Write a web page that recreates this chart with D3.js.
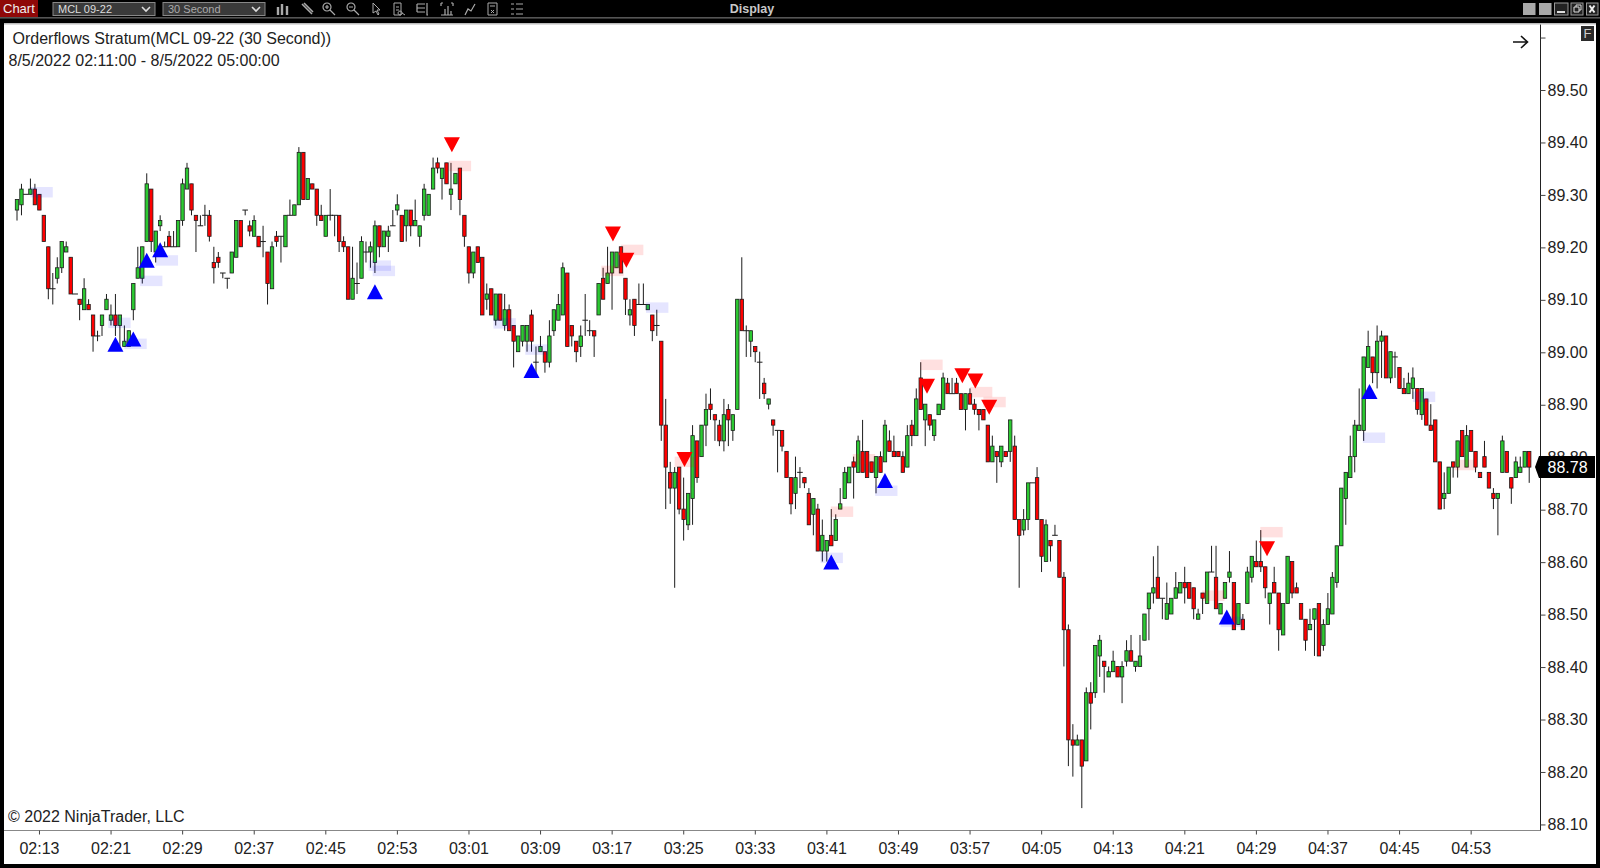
<!DOCTYPE html>
<html><head><meta charset="utf-8"><title>Orderflows Stratum</title>
<script src="https://cdn.jsdelivr.net/npm/d3@7/dist/d3.min.js"></script>
<style>html,body{margin:0;padding:0;background:#000;overflow:hidden}svg{display:block}text{font-family:"Liberation Sans",Arial,sans-serif}</style>
</head><body><svg id="c" width="1600" height="868"></svg>
<script>
const firstBarMinute = 130.5; // 02:10:30
const barMinutes = 0.5;
const opens = [
89.27,89.28,89.30,89.30,89.31,89.30,89.26,89.20,89.12,89.14,
89.16,89.19,89.18,89.11,89.10,89.08,89.09,89.07,89.03,89.05,
89.08,89.06,89.07,89.05,89.01,89.01,89.08,89.14,89.14,89.21,
89.31,89.19,89.24,89.20,89.22,89.20,89.20,89.25,89.31,89.32,
89.26,89.24,89.26,89.26,89.17,89.18,89.15,89.14,89.15,89.18,
89.25,89.27,89.24,89.22,89.22,89.21,89.19,89.12,89.22,89.22,
89.20,89.26,89.26,89.28,89.38,89.29,89.32,89.31,89.26,89.22,
89.26,89.26,89.26,89.21,89.20,89.10,89.13,89.14,89.19,89.19,
89.17,89.24,89.20,89.22,89.24,89.27,89.26,89.24,89.27,89.24,
89.22,89.26,89.26,89.31,89.36,89.33,89.36,89.30,89.32,89.35,
89.26,89.20,89.15,89.20,89.18,89.10,89.12,89.06,89.11,89.05,
89.08,89.05,89.00,89.02,89.02,89.07,88.98,89.00,89.00,88.98,
89.04,89.06,89.07,89.15,89.05,89.02,89.01,89.06,89.04,89.04,
89.07,89.14,89.13,89.15,89.16,89.20,89.14,89.07,89.10,89.09,
89.09,89.08,89.07,89.05,89.02,88.86,88.77,88.74,88.78,88.70,
88.67,88.72,88.83,88.80,88.86,88.90,88.88,88.86,88.83,88.89,
88.85,88.89,89.10,89.04,89.02,89.01,88.98,88.94,88.90,88.87,
88.85,88.85,88.81,88.76,88.73,88.77,88.76,88.73,88.69,88.70,
88.62,88.62,88.65,88.64,88.70,88.72,88.75,88.79,88.77,88.81,
88.81,88.79,88.76,88.80,88.79,88.83,88.81,88.81,88.80,88.78,
88.86,88.84,88.95,88.87,88.88,88.84,88.88,88.89,88.94,88.92,
88.94,88.92,88.89,88.92,88.90,88.89,88.89,88.86,88.79,88.81,
88.79,88.81,88.81,88.82,88.68,88.66,88.68,88.75,88.76,88.68,
88.60,88.64,88.65,88.64,88.57,88.47,88.26,88.25,88.26,88.22,
88.35,88.35,88.42,88.41,88.38,88.39,88.40,88.38,88.41,88.43,
88.40,88.40,88.45,88.51,88.54,88.57,88.53,88.49,88.50,88.53,
88.54,88.56,88.56,88.55,88.49,88.54,88.52,88.58,88.57,88.50,
88.53,88.57,88.56,88.48,88.49,88.52,88.57,88.60,88.60,88.59,
88.52,88.56,88.54,88.46,88.52,88.60,88.55,88.52,88.49,88.47,
88.49,88.52,88.44,88.48,88.50,88.56,88.63,88.72,88.76,88.80,
88.85,88.85,88.97,88.99,88.96,89.02,89.03,88.95,88.99,88.97,
88.93,88.92,88.93,88.93,88.88,88.91,88.86,88.87,88.79,88.72,
88.73,88.79,88.78,88.85,88.78,88.85,88.81,88.77,88.80,88.77,
88.73,88.72,88.77,88.81,88.76,88.76,88.77,88.78,88.81];
const closes = [
89.29,89.31,89.30,89.31,89.28,89.27,89.21,89.12,89.12,89.16,
89.21,89.20,89.11,89.11,89.09,89.12,89.08,89.03,89.03,89.07,
89.10,89.07,89.05,89.07,89.02,89.04,89.13,89.16,89.20,89.32,
89.21,89.23,89.25,89.20,89.20,89.20,89.25,89.32,89.35,89.27,
89.25,89.24,89.26,89.22,89.16,89.17,89.15,89.14,89.19,89.25,
89.20,89.27,89.23,89.25,89.20,89.21,89.13,89.20,89.21,89.22,
89.26,89.26,89.28,89.38,89.29,89.33,89.31,89.26,89.25,89.26,
89.26,89.26,89.21,89.20,89.10,89.14,89.13,89.21,89.19,89.20,
89.24,89.20,89.23,89.23,89.24,89.28,89.21,89.27,89.24,89.25,
89.24,89.31,89.30,89.35,89.35,89.35,89.32,89.31,89.34,89.29,
89.22,89.15,89.19,89.17,89.07,89.11,89.07,89.11,89.06,89.08,
89.04,89.02,89.03,89.05,89.05,89.02,88.98,89.01,88.98,89.03,
89.08,89.09,89.16,89.01,89.03,89.00,89.03,89.06,89.04,89.03,
89.13,89.10,89.15,89.19,89.19,89.15,89.10,89.08,89.05,89.09,
89.09,89.09,89.04,89.05,88.86,88.78,88.74,88.77,88.70,88.68,
88.73,88.84,88.76,88.86,88.89,88.89,88.87,88.83,88.88,88.87,
88.88,89.10,89.04,89.04,89.04,89.00,88.98,88.92,88.91,88.86,
88.85,88.82,88.76,88.71,88.76,88.77,88.75,88.67,88.72,88.62,
88.65,88.64,88.63,88.68,88.71,88.77,88.78,88.78,88.83,88.77,
88.76,88.77,88.80,88.77,88.86,88.81,88.80,88.80,88.77,88.84,
88.84,88.91,88.89,88.90,88.86,88.87,88.90,88.95,88.92,88.92,
88.92,88.89,88.92,88.90,88.89,88.88,88.87,88.79,88.82,88.80,
88.82,88.80,88.87,88.68,88.65,88.68,88.75,88.75,88.68,88.61,
88.67,88.63,88.65,88.57,88.47,88.26,88.25,88.26,88.21,88.35,
88.33,88.44,88.45,88.40,88.39,88.41,88.38,88.40,88.43,88.41,
88.41,88.42,88.50,88.54,88.55,88.53,88.53,88.52,88.53,88.55,
88.56,88.55,88.53,88.51,88.50,88.53,88.58,88.58,88.51,88.52,
88.56,88.58,88.47,88.52,88.47,88.58,88.61,88.59,88.59,88.55,
88.54,88.54,88.47,88.52,88.61,88.54,88.54,88.49,88.45,88.48,
88.51,88.42,88.48,88.51,88.57,88.63,88.74,88.77,88.80,88.86,
88.86,88.99,89.01,88.96,89.02,89.03,88.95,89.00,88.99,88.93,
88.92,88.94,88.95,88.89,88.93,88.86,88.85,88.79,88.70,88.73,
88.78,88.78,88.83,88.80,88.84,88.81,88.78,88.76,88.78,88.74,
88.72,88.73,88.83,88.77,88.74,88.79,88.78,88.81,88.78];
const highs = [
89.29,89.32,89.30,89.33,89.32,89.30,89.26,89.20,89.15,89.18,
89.21,89.21,89.18,89.11,89.10,89.14,89.10,89.07,89.04,89.07,
89.11,89.09,89.11,89.07,89.05,89.04,89.13,89.20,89.20,89.34,
89.31,89.23,89.26,89.21,89.23,89.23,89.25,89.33,89.36,89.32,
89.26,89.26,89.28,89.27,89.20,89.19,89.15,89.14,89.19,89.25,
89.25,89.27,89.25,89.26,89.22,89.24,89.19,89.21,89.23,89.22,
89.26,89.29,89.28,89.39,89.38,89.33,89.32,89.31,89.28,89.26,
89.31,89.26,89.26,89.22,89.20,89.20,89.17,89.22,89.21,89.21,
89.25,89.24,89.23,89.24,89.27,89.30,89.26,89.27,89.27,89.29,
89.24,89.32,89.30,89.37,89.37,89.35,89.36,89.36,89.34,89.35,
89.26,89.20,89.19,89.20,89.18,89.13,89.12,89.11,89.11,89.11,
89.09,89.05,89.03,89.05,89.05,89.08,89.01,89.03,89.00,89.06,
89.08,89.11,89.17,89.15,89.05,89.02,89.05,89.11,89.06,89.04,
89.13,89.16,89.20,89.19,89.19,89.20,89.14,89.10,89.10,89.13,
89.13,89.09,89.07,89.08,89.02,88.91,88.79,88.78,88.78,88.76,
88.73,88.86,88.83,88.86,88.92,88.93,88.88,88.87,88.91,88.90,
88.88,89.10,89.18,89.05,89.04,89.01,89.00,88.95,88.91,88.87,
88.85,88.85,88.81,88.76,88.80,88.78,88.76,88.74,88.72,88.71,
88.68,88.64,88.70,88.69,88.74,88.78,88.78,88.80,88.84,88.87,
88.81,88.79,88.80,88.81,88.87,88.85,88.84,88.81,88.81,88.86,
88.87,88.93,88.98,88.90,88.88,88.87,88.90,88.96,88.95,88.95,
88.95,88.92,88.92,88.93,88.91,88.89,88.89,88.86,88.84,88.81,
88.82,88.81,88.87,88.84,88.68,88.70,88.75,88.75,88.78,88.68,
88.68,88.64,88.67,88.64,88.58,88.48,88.29,88.27,88.26,88.36,
88.37,88.44,88.46,88.41,88.40,88.43,88.40,88.41,88.45,88.46,
88.41,88.46,88.50,88.54,88.61,88.63,88.53,88.56,88.53,88.58,
88.56,88.59,88.56,88.55,88.51,88.54,88.58,88.63,88.63,88.52,
88.56,88.62,88.56,88.52,88.50,88.59,88.61,88.64,88.66,88.59,
88.54,88.59,88.54,88.52,88.61,88.60,88.56,88.52,88.49,88.51,
88.51,88.52,88.49,88.54,88.58,88.63,88.74,88.77,88.84,88.87,
88.93,88.99,89.04,88.99,89.05,89.04,89.03,89.00,89.00,88.97,
88.95,88.96,88.97,88.93,88.93,88.91,88.90,88.87,88.79,88.77,
88.78,88.79,88.83,88.85,88.86,88.85,88.81,88.77,88.83,88.77,
88.74,88.73,88.84,88.81,88.76,88.80,88.80,88.81,88.81];
const lows = [
89.25,89.26,89.30,89.30,89.28,89.27,89.21,89.10,89.09,89.13,
89.15,89.19,89.11,89.11,89.06,89.08,89.08,89.00,89.02,89.03,
89.08,89.05,89.03,89.01,89.01,89.01,89.06,89.14,89.13,89.21,
89.19,89.17,89.23,89.20,89.20,89.20,89.20,89.24,89.31,89.26,
89.19,89.24,89.24,89.21,89.13,89.16,89.14,89.12,89.15,89.18,
89.20,89.26,89.22,89.22,89.20,89.18,89.09,89.12,89.20,89.17,
89.20,89.26,89.26,89.28,89.29,89.29,89.31,89.24,89.25,89.22,
89.25,89.22,89.19,89.19,89.10,89.10,89.11,89.14,89.17,89.16,
89.15,89.18,89.20,89.19,89.24,89.26,89.21,89.21,89.22,89.24,
89.20,89.25,89.26,89.31,89.34,89.29,89.32,89.27,89.32,89.26,
89.20,89.13,89.14,89.17,89.07,89.08,89.07,89.05,89.06,89.04,
89.04,88.97,89.00,89.01,89.00,89.00,88.95,89.00,88.96,88.97,
89.03,89.06,89.07,89.01,89.01,88.98,88.99,89.03,89.03,88.99,
89.07,89.10,89.13,89.08,89.16,89.15,89.07,89.05,89.03,89.09,
89.09,89.08,89.02,89.03,88.83,88.70,88.71,88.55,88.69,88.64,
88.66,88.67,88.75,88.80,88.82,88.87,88.83,88.82,88.81,88.82,
88.83,88.89,89.04,88.99,88.99,88.98,88.91,88.91,88.89,88.84,
88.77,88.81,88.76,88.69,88.70,88.74,88.74,88.67,88.65,88.62,
88.60,88.60,88.63,88.64,88.70,88.72,88.75,88.72,88.77,88.77,
88.76,88.77,88.73,88.77,88.79,88.81,88.80,88.80,88.77,88.78,
88.82,88.84,88.89,88.82,88.85,88.83,88.88,88.89,88.92,88.92,
88.92,88.89,88.85,88.90,88.88,88.85,88.87,88.79,88.79,88.75,
88.78,88.80,88.79,88.68,88.55,88.65,88.66,88.75,88.68,88.58,
88.60,88.60,88.65,88.57,88.40,88.21,88.19,88.25,88.13,88.22,
88.28,88.34,88.38,88.35,88.38,88.39,88.38,88.33,88.40,88.41,
88.39,88.40,88.45,88.45,88.52,88.53,88.49,88.49,88.50,88.53,
88.54,88.52,88.53,88.49,88.49,88.50,88.52,88.58,88.51,88.50,
88.53,88.56,88.47,88.48,88.47,88.52,88.56,88.59,88.58,88.53,
88.48,88.54,88.43,88.46,88.52,88.53,88.54,88.49,88.43,88.47,
88.42,88.42,88.43,88.48,88.50,88.55,88.63,88.67,88.76,88.77,
88.85,88.83,88.97,88.94,88.93,88.95,88.95,88.94,88.95,88.93,
88.92,88.92,88.91,88.88,88.87,88.86,88.85,88.79,88.70,88.70,
88.73,88.76,88.76,88.80,88.78,88.81,88.77,88.76,88.78,88.74,
88.70,88.65,88.77,88.77,88.71,88.76,88.77,88.78,88.75];

// Signals: bar position and price of the triangle's flat edge / tip
const upBars = [22,26,29,32,80,115,182,194,270.4,302.3];
const upPrices = [89.00,89.01,89.16,89.18,89.10,88.95,88.585,88.74,88.48,88.91];
const downBars = [97.2,133.2,136.2,149.2,203.4,211.3,214.2,217.3,279.4];
const downPrices = [89.38,89.21,89.16,88.78,88.92,88.94,88.93,88.88,88.61];
// Imbalance zones: left bar and centre price
const blueZoneBars = [3,20.4,24,27.5,31,78.6,79.5,106.5,113.6,140.6,179.6,191.8,269,300.8,312];
const blueZonePrices = [89.304,89.055,89.015,89.135,89.174,89.164,89.154,89.054,89.004,89.084,88.607,88.735,88.485,88.836,88.914];
const pinkZoneBars = [96.5,130.6,135,147,181.9,186.8,201.9,213,216,264.9,277.9,321.3];
const pinkZonePrices = [89.354,89.154,89.194,88.79,88.695,88.795,88.975,88.923,88.904,88.535,88.656,88.784];

const timeLabels = ["02:13","02:21","02:29","02:37","02:45","02:53","03:01","03:09","03:17","03:25","03:33","03:41","03:49","03:57","04:05","04:13","04:21","04:29","04:37","04:45","04:53"];
const priceTicks = [89.6,89.5,89.4,89.3,89.2,89.1,89.0,88.9,88.8,88.7,88.6,88.5,88.4,88.3,88.2,88.1];
const lastPrice = 88.78;
const titleText = "Orderflows Stratum(MCL 09-22 (30 Second))";
const rangeText = "8/5/2022 02:11:00 - 8/5/2022 05:00:00";
const copyText = "\u00a9 2022 NinjaTrader, LLC";

const svg = d3.select("#c");
const GREEN = "#2cc932", RED = "#ff0000", INK = "#1c1c1c";
const x = d3.scaleLinear().domain([0,338]).range([17,17+4.474*338]);
const y = d3.scaleLinear().domain([89,88.1]).range([351.7,351.7+0.9*524.6]);
const toMin = t => { const p = t.split(":"); return +p[0]*60 + +p[1]; };
const xTime = d3.scaleLinear().domain([firstBarMinute, firstBarMinute+338*barMinutes]).range([16.6,16.6+4.474*338]);

// frame
svg.append("rect").attr("width",1600).attr("height",868).attr("fill","#000");
svg.append("rect").attr("x",4).attr("y",23).attr("width",1592).attr("height",841).attr("fill","#fff");
svg.append("rect").attr("x",4).attr("y",23).attr("width",1592).attr("height",1.5).attr("fill","#bbb");
svg.append("rect").attr("x",0).attr("y",17).attr("width",1600).attr("height",1.6).attr("fill","#555");

// toolbar
svg.append("rect").attr("x",0).attr("y",0).attr("width",38).attr("height",17).attr("fill","#8f0808");
svg.append("text").attr("x",3).attr("y",13).attr("font-size",13).attr("fill","#eee").text("Chart");
[[53,155,"MCL 09-22","#ddd"],[163,265,"30 Second","#aaa"]].forEach(s=>{
  svg.append("rect").attr("x",s[0]).attr("y",2.5).attr("width",s[1]-s[0]).attr("height",13).attr("fill","#3a3a3a").attr("stroke","#888");
  svg.append("text").attr("x",s[0]+5).attr("y",13).attr("font-size",11).attr("fill",s[3]).text(s[2]);
  svg.append("path").attr("d",`M${s[1]-13} 7l4 4l4 -4`).attr("fill","none").attr("stroke","#ddd").attr("stroke-width",1.6);
});
svg.append("text").attr("x",752).attr("y",13).attr("text-anchor","middle").attr("font-size",12.5).attr("font-weight","bold").attr("fill","#c8c8c8").text("Display");
const icons = [
 [283,"M-5 -2v8M-1 -5v11M4 -3v9",2.4],
 [307,"M-5 -5l10 10M-3 -6l9 9",1.6],
 [329,"M-2 -2m-4 0a4 4 0 1 0 8 0a4 4 0 1 0 -8 0M1 1l5 5M-4 -2h4M-2 -4v4",1.2],
 [353,"M-2 -2m-4 0a4 4 0 1 0 8 0a4 4 0 1 0 -8 0M1 1l5 5M-4 -2h4",1.2],
 [376,"M-3 -6v10l3 -2l2 4l1 -1l-2 -4h3z",1],
 [399,"M-5 -6h7v12h-7zM-3 -2h3M-3 1h3M1 2a2 2 0 1 0 .1 0M3 4l3 2",1],
 [423,"M-6 -5h8M-6 -1h8M-6 3h8M4 -6v12h1M-6 -5v8",1.2],
 [447,"M-6 -6h2M4 -6h2M-6 6h12M-6 -6v3M6 -6v3M-2 6v-6M1 6v-9M4 6v-4",1.2],
 [470,"M-5 6l3 -6l3 2l4 -7",1.2],
 [493,"M-5 -6h9v12h-9zM-3 -3h5M-2 1l3 3M1 1l-3 3",1],
 [517,"M-6 -5h3M-6 0h3M-6 5h3M-1 -5h7M-1 0h7M-1 5h7",1.2]];
icons.forEach(d=>svg.append("path").attr("transform",`translate(${d[0]},9)`).attr("d",d[1]).attr("fill","none").attr("stroke","#aaa").attr("stroke-width",d[2]));
[[1523,1535.5],[1539,1551.5]].forEach(b=>svg.append("rect").attr("x",b[0]).attr("y",3).attr("width",b[1]-b[0]).attr("height",12).attr("fill","#a8a8a8"));
[[1554.5,1568],[1571,1583],[1586.5,1598]].forEach(b=>svg.append("rect").attr("x",b[0]).attr("y",3).attr("width",b[1]-b[0]).attr("height",12).attr("fill","#222").attr("stroke","#999"));
svg.append("path").attr("d","M1557 12h8").attr("stroke","#ddd").attr("stroke-width",2);
svg.append("path").attr("d","M1574 7h5v5h-5zM1576 7v-2h5v5h-2").attr("fill","none").attr("stroke","#ddd");
svg.append("path").attr("d","M1589.5 5.5l5 7M1594.5 5.5l-5 7").attr("stroke","#eee").attr("stroke-width",2);

// axes
const yAxis = d3.axisRight(y).tickValues(priceTicks).tickSize(5).tickPadding(2)
  .tickFormat(v => Math.abs(v-89.6)<1e-6 ? "" : v.toFixed(2));
const gy = svg.append("g").attr("transform","translate(1540.5,0.6)").call(yAxis);
gy.select(".domain").attr("d","M0 24V830").attr("stroke","#222");
gy.selectAll(".tick line").attr("stroke","#444");
gy.selectAll("text").attr("font-size",16).attr("font-family","Liberation Sans").attr("fill","#222");
const xAxis = d3.axisBottom(xTime).tickValues(timeLabels.map(toMin)).tickSize(4).tickPadding(8.5)
  .tickFormat((v,i)=>timeLabels[i]);
const gx = svg.append("g").attr("transform","translate(0,830.5)").call(xAxis);
gx.select(".domain").attr("d","M4 0H1540").attr("stroke","#888");
gx.selectAll(".tick line").attr("stroke","#444");
gx.selectAll("text").attr("font-size",16).attr("font-family","Liberation Sans").attr("fill","#222");

// candles
const bars = d3.range(opens.length);
const g = svg.append("g");
g.selectAll("line.w").data(bars).join("line").attr("class","w")
  .attr("x1",i=>x(i)).attr("x2",i=>x(i)).attr("y1",i=>y(highs[i])).attr("y2",i=>y(lows[i]))
  .attr("stroke",INK).attr("stroke-width",1);
g.selectAll("rect.b").data(bars.filter(i=>opens[i]!==closes[i])).join("rect").attr("class","b")
  .attr("x",i=>x(i)-1.7).attr("width",3.4)
  .attr("y",i=>y(Math.max(opens[i],closes[i])))
  .attr("height",i=>Math.abs(y(opens[i])-y(closes[i])))
  .attr("fill",i=>closes[i]>opens[i]?GREEN:RED)
  .attr("stroke",INK).attr("stroke-width",0.8);
g.selectAll("line.d").data(bars.filter(i=>opens[i]===closes[i])).join("line").attr("class","d")
  .attr("x1",i=>x(i)-2.8).attr("x2",i=>x(i)+2.8).attr("y1",i=>y(closes[i])).attr("y2",i=>y(closes[i]))
  .attr("stroke",INK).attr("stroke-width",1);

// zones
const zone = (bs,ps,col,op)=>svg.append("g").selectAll("rect").data(bs).join("rect")
  .attr("x",b=>x(b)).attr("width",x(5)-x(0))
  .attr("y",(b,k)=>y(ps[k]+0.01)).attr("height",y(0)-y(0.02))
  .attr("fill",col).attr("fill-opacity",op);
zone(blueZoneBars,blueZonePrices,"#0000ff",0.1);
zone(pinkZoneBars,pinkZonePrices,"#ff0000",0.12);

// triangles
svg.append("g").selectAll("path").data(upBars).join("path")
  .attr("d",(b,k)=>`M${x(b)} ${y(upPrices[k])-15}L${x(b)+8} ${y(upPrices[k])}H${x(b)-8}Z`).attr("fill","#0000ff");
svg.append("g").selectAll("path").data(downBars).join("path")
  .attr("d",(b,k)=>`M${x(b)} ${y(downPrices[k])}L${x(b)+8} ${y(downPrices[k])-15}H${x(b)-8}Z`).attr("fill","#ff0000");

// last price tag
const ty = y(lastPrice);
svg.append("path").attr("d",`M1535 ${ty}L1539 ${ty-11}H1595V${ty+11}H1539Z`).attr("fill","#000");
svg.append("text").attr("x",1547.5).attr("y",ty+6.2).attr("font-size",16).attr("fill","#fff").text(lastPrice.toFixed(2));

// overlays
svg.append("text").attr("x",12.5).attr("y",44).attr("font-size",16).attr("fill","#222").text(titleText);
svg.append("text").attr("x",8.5).attr("y",66).attr("font-size",16).attr("fill","#222").text(rangeText);
svg.append("text").attr("x",8).attr("y",821.5).attr("font-size",16).attr("fill","#222").text(copyText);
svg.append("path").attr("d","M1513 42H1527M1521 36L1527.5 42L1521 48").attr("fill","none").attr("stroke","#111").attr("stroke-width",1.6);
svg.append("rect").attr("x",1581).attr("y",26).attr("width",13).attr("height",15).attr("fill","#2a2a2a");
svg.append("text").attr("x",1587.5).attr("y",38).attr("text-anchor","middle").attr("font-size",13).attr("fill","#ccc").text("F");
</script></body></html>
